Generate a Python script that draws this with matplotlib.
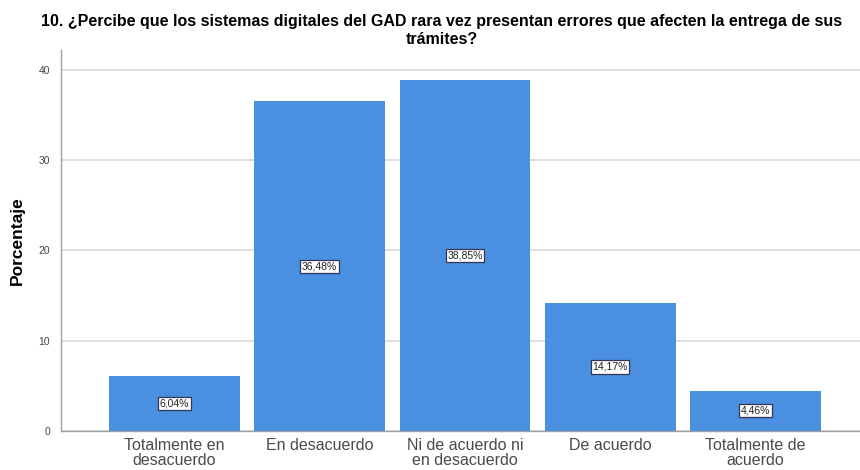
import matplotlib
matplotlib.use("Agg")
import matplotlib.pyplot as plt
import numpy as np

plt.rcParams['font.family'] = ['Liberation Sans', 'DejaVu Sans']

categorias = ["Totalmente en\ndesacuerdo", "En desacuerdo", "Ni de acuerdo ni\nen desacuerdo",
              "De acuerdo", "Totalmente de\nacuerdo"]
porcentajes = [6.04, 36.48, 38.85, 14.17, 4.46]
ticks_y = [0, 10, 20, 30, 40]
titulo = "10. ¿Percibe que los sistemas digitales del GAD rara vez presentan errores que afecten la entrega de sus\ntrámites?"

fig = plt.figure(figsize=(8.6, 4.7), dpi=100)
ax = fig.add_axes([0.071, 0.083, 0.929, 0.811])

x = np.arange(len(categorias))
ax.bar(x, porcentajes, width=0.9, color='#4a8fe0', zorder=3)

# etiquetas con el porcentaje en el centro de cada barra
for xi, v in zip(x, porcentajes):
    txt = f"{v:.2f}%".replace(".", ",")
    ax.text(xi, v / 2, txt, ha='center', va='center', fontsize=7.5, color='#222222', zorder=4,
            bbox=dict(boxstyle='square,pad=0.15', facecolor='white', edgecolor='#333355', linewidth=0.9))

ax.set_xlim(-0.78, 4.72)
ax.set_ylim(0, 42.2)
ax.set_yticks(ticks_y)
ax.set_yticklabels([str(t) for t in ticks_y], fontsize=7.5, color='#444444')
ax.set_xticks(x)
ax.set_xticklabels(categorias, fontsize=11.5, color='#4a4a4a', linespacing=1.0)
ax.tick_params(axis='both', length=0)
ax.tick_params(axis='y', pad=8)
ax.tick_params(axis='x', pad=5)

ax.grid(axis='y', color='#d9d9d9', linewidth=1.2, zorder=0)
for s in ['top', 'right']:
    ax.spines[s].set_visible(False)
for s in ['left', 'bottom']:
    ax.spines[s].set_color('#a0a0a0')
    ax.spines[s].set_linewidth(1.0)

ax.set_ylabel("Porcentaje", fontsize=12.5, fontweight='bold', labelpad=10)
fig.text(0.514, 0.97, titulo, ha='center', va='top', fontsize=11.5, fontweight='bold',
         linespacing=1.2)

fig.savefig("out.png", dpi=100)
